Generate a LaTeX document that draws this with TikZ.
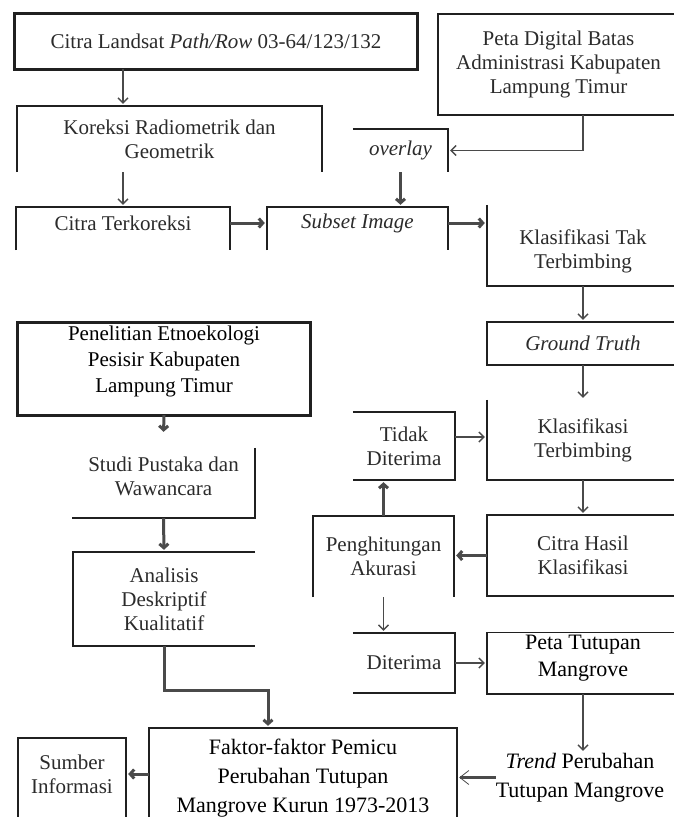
\documentclass[tikz,border=0pt]{standalone}
\usepackage{fontspec}
\setmainfont{Liberation Serif}
\usepackage{xcolor}
\definecolor{flow-line}{HTML}{202020}
\definecolor{flow-arrow}{HTML}{4A4A4A}
\definecolor{flow-text}{HTML}{2B2B2B}
\usetikzlibrary{arrows.meta,calc}

\begin{document}
\begin{tikzpicture}[x=1pt, y=-1pt,
    box/.style={inner sep=0pt, align=center, text=flow-text, font=\fontsize{21}{24}\selectfont},
    pasted/.style={inner sep=0pt, align=center, text=black, font=\fontsize{22}{27}\selectfont},
    edge/.style={flow-line, line width=1.6pt},
    heavy/.style={flow-line, line width=2.8pt},
    arr/.style={flow-arrow, line width=1.4pt, shorten >=2pt, -{Straight Barb[length=5pt,width=10pt]}},
    thickarr/.style={flow-arrow, line width=3pt, shorten >=2pt, -{Straight Barb[length=4pt,width=9pt]}}]

    % Page
    \useasboundingbox (0,0) rectangle (673,817);

    % Remote sensing chain
    \node[box, minimum width=402, minimum height=55] (landsat) at (216,41.5) {Citra Landsat \textit{Path/Row} 03-64/123/132};
    \node[box, minimum width=241, minimum height=101] (petadig) at (558.5,64.5) {Peta Digital Batas\\Administrasi Kabupaten\\Lampung Timur};
    \node[box, minimum width=305, minimum height=66] (koreksi) at (169.5,139) {Koreksi Radiometrik dan\\Geometrik};
    \node[box, minimum width=95, minimum height=43] (overlay) at (400.5,150.5) {\textit{overlay}};
    \node[box, minimum width=214, minimum height=32] (terko) at (123,223) {Citra Terkoreksi};
    \node[box, minimum width=181, minimum height=32] (subset) at (357.5,223) {\textit{Subset Image}};
    \node[box, minimum width=192, minimum height=70] (klastak) at (583,251) {Klasifikasi Tak\\Terbimbing};
    \node[box, minimum width=192, minimum height=43] (ground) at (583,343.5) {\textit{Ground Truth}};
    \node[box, minimum width=192, minimum height=80] (klasterb) at (583,440) {Klasifikasi\\Terbimbing};
    \node[box, minimum width=102, minimum height=68] (tidak) at (404,446) {Tidak\\Diterima};
    \node[box, minimum width=192, minimum height=81] (hasil) at (583,555.5) {Citra Hasil\\Klasifikasi};
    \node[box, minimum width=141, minimum height=81] (hitung) at (383.5,556.5) {Penghitungan\\Akurasi};
    \node[box, minimum width=102, minimum height=60] (diterima) at (404,663) {Diterima};
    \node[pasted, minimum width=192, minimum height=61] (tutupan) at (583,658) {Peta Tutupan\\Mangrove};
    \node[pasted, font=\fontsize{22}{29}\selectfont] (trend) at (580,777.5) {\textit{Trend} Perubahan\\Tutupan Mangrove};

    % Field study chain
    \node[pasted, minimum width=292, minimum height=76, font=\fontsize{21}{26}\selectfont] (etno) at (164,361) {Penelitian Etnoekologi\\Pesisir Kabupaten\\Lampung Timur};
    \node[box, minimum width=183, minimum height=84] (pustaka) at (163.5,476) {Studi Pustaka dan\\Wawancara};
    \node[box, minimum width=182, minimum height=90] (analisis) at (164,599) {Analisis\\Deskriptif\\Kualitatif};

    % Results
    \node[pasted, minimum width=308, minimum height=104, font=\fontsize{22}{29}\selectfont] (faktor) at (303,778) {Faktor-faktor Pemicu\\Perubahan Tutupan\\Mangrove Kurun 1973-2013};
    \node[box, minimum width=108, minimum height=72] (sumber) at (72,774) {Sumber\\Informasi};

    % Box outlines (scan shows only some sides)
    \draw[heavy] (landsat.south west) rectangle (landsat.north east);
    \draw[edge] (petadig.south west) rectangle (petadig.north east);
    \draw[edge] (koreksi.south west) -- (koreksi.north west) -- (koreksi.north east) -- (koreksi.south east);
    \draw[edge] (overlay.north west) -- (overlay.north east) -- (overlay.south east);
    \draw[edge] ([yshift=-11pt]terko.south west) -- (terko.north west) -- (terko.north east) -- ([yshift=-11pt]terko.south east);
    \draw[edge] ([yshift=-11pt]subset.south west) -- (subset.north west) -- (subset.north east) -- ([yshift=-11pt]subset.south east);
    \draw[edge] ([yshift=11pt]klastak.north west) -- (klastak.south west) -- (klastak.south east);
    \draw[edge] (ground.north east) -- (ground.north west) -- (ground.south west) -- (ground.south east);
    \draw[edge] (klasterb.north west) -- (klasterb.south west) -- (klasterb.south east);
    \draw[edge] (tidak.north west) -- (tidak.north east) -- (tidak.south east) -- (tidak.south west);
    \draw[edge] (hasil.north east) -- (hasil.north west) -- (hasil.south west) -- (hasil.south east);
    \draw[edge] (hitung.south west) -- (hitung.north west) -- (hitung.north east) -- (hitung.south east);
    \draw[edge] (diterima.north west) -- (diterima.north east) -- (diterima.south east) -- (diterima.south west);
    \draw[edge] ([yshift=-5pt]tutupan.north east) -- ([yshift=-5pt]tutupan.north west) -- ([yshift=-5pt]tutupan.south west) -- ([yshift=-5pt]tutupan.south east);
    \draw[heavy] ([yshift=-16pt]etno.south west) rectangle (etno.north east);
    \draw[edge] ([yshift=-14pt]pustaka.north east) -- (pustaka.south east) -- (pustaka.south west);
    \draw[edge] ([yshift=2pt]analisis.north east) -- ([yshift=2pt]analisis.north west) -- ([yshift=-2pt]analisis.south west) -- ([yshift=-2pt]analisis.south east);
    \draw[edge] ([yshift=-8pt]faktor.south west) rectangle ([yshift=-2pt]faktor.north east);
    \draw[edge] ([yshift=-20pt]sumber.south west) -- (sumber.north west) -- (sumber.north east) -- ([yshift=-20pt]sumber.south east);

    % Connectors
    \draw[arr] (landsat.south -| terko) -- (koreksi.north -| terko);
    \draw[arr] (koreksi.south -| terko) -- (terko.north);
    \draw[arr] (petadig.south -| ground) |- (overlay.east);
    \draw[thickarr] (overlay.south) -- (overlay.south |- subset.north);
    \draw[thickarr] (terko.east) -- (subset.west);
    \draw[thickarr] (subset.east) -- (subset.east -| klastak.west);
    \draw[arr] (klastak.south) -- (ground.north);
    \draw[arr] (ground.south) -- (klasterb.north);
    \draw[arr] (klasterb.south) -- (hasil.north);
    \draw[thickarr] (hasil.west) -- (hasil.west -| hitung.east);
    \draw[thickarr] (hitung.north) -- (hitung.north |- tidak.south);
    \draw[arr] ([yshift=9pt]tidak.east) -- ([yshift=9pt]tidak.east -| klasterb.west);
    \draw[arr] (hitung.south) -- (hitung.south |- diterima.north);
    \draw[arr] (diterima.east) -- (diterima.east -| tutupan.west);
    \draw[arr] ([yshift=-5pt]tutupan.south) -- (tutupan.south |- trend.north);
    \draw[flow-arrow, line width=3pt, shorten >=2pt, -{Straight Barb[length=9pt,width=14pt,line width=0.8pt]}] (trend.west) -- (trend.west -| faktor.east);
    \draw[thickarr] ([yshift=-16pt]etno.south) -- (pustaka.north);
    \draw[thickarr] (pustaka.south) -- ([yshift=2pt]analisis.north);
    \draw[thickarr] ([yshift=-2pt]analisis.south) -- ++(0,44) -| ([xshift=-35pt,yshift=-2pt]faktor.north);
    \draw[thickarr] (faktor.west |- sumber.east) -- (sumber.east);

\end{tikzpicture}
\end{document}
